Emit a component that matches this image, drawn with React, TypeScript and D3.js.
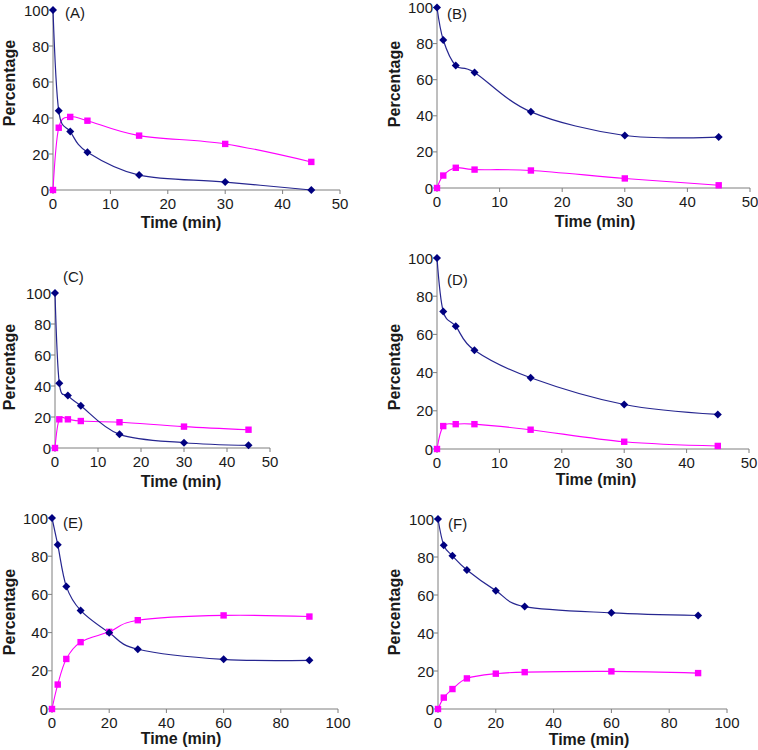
import React from "react";
import * as d3 from "d3";

const timesShort = [0, 1, 3, 6, 15, 30, 45];
const timesLong = [0, 2, 5, 10, 20, 30, 60, 90];

const blueA = [100, 44, 32.5, 21, 8.3, 4.4, 0];
const pinkA = [0, 34.6, 40.6, 38.5, 30.2, 25.6, 15.6];
const blueB = [100, 82, 67.8, 64, 42.2, 29.1, 28.2];
const pinkB = [0, 6.9, 11.2, 10.2, 9.7, 5.3, 1.5];
const blueC = [100, 41.7, 33.8, 27.3, 8.8, 3.4, 1.7];
const pinkC = [0, 18.5, 18.5, 17.4, 16.6, 13.8, 11.8];
const blueD = [100, 72, 64.3, 51.7, 37.3, 23.3, 18.1];
const pinkD = [0, 12, 13, 13, 10.1, 3.8, 1.6];
const blueE = [100, 86, 64.2, 51.6, 39.9, 31.3, 26, 25.5];
const pinkE = [0, 12.8, 26.2, 35, 40.4, 46.5, 49, 48.4];
const blueF = [100, 86.2, 80.6, 73.2, 62.3, 53.9, 50.6, 49.2];
const pinkF = [0, 6, 10.5, 16.1, 18.6, 19.4, 19.8, 18.9];

const xTicksShort = [0, 10, 20, 30, 40, 50];
const xTicksLong = [0, 20, 40, 60, 80, 100];
const yTicks = [0, 20, 40, 60, 80, 100];

const panelLabels = ["(A)", "(B)", "(C)", "(D)", "(E)", "(F)"];
const xLabel = "Time (min)";
const yLabel = "Percentage";

type Panel = {
  label: string;
  times: number[];
  blue: number[];
  pink: number[];
  xMax: number;
  xTicks: number[];
  x0: number; x1: number; yTop: number; yBot: number;
  labelX: number; labelY: number;
  titleX: number; titleY: number;
  ylabX: number; ylabY: number;
};

const panels: Panel[] = [
  { label: panelLabels[0], times: timesShort, blue: blueA, pink: pinkA, xMax: 50, xTicks: xTicksShort,
    x0: 53, x1: 340, yTop: 10, yBot: 190, labelX: 65, labelY: 18, titleX: 181, titleY: 228, ylabX: 15, ylabY: 83 },
  { label: panelLabels[1], times: timesShort, blue: blueB, pink: pinkB, xMax: 50, xTicks: xTicksShort,
    x0: 437, x1: 750, yTop: 7.5, yBot: 188, labelX: 447, labelY: 19, titleX: 595, titleY: 227, ylabX: 400, ylabY: 84 },
  { label: panelLabels[2], times: timesShort, blue: blueC, pink: pinkC, xMax: 50, xTicks: xTicksShort,
    x0: 55, x1: 270, yTop: 293, yBot: 448, labelX: 63, labelY: 282, titleX: 181, titleY: 487, ylabX: 15, ylabY: 367 },
  { label: panelLabels[3], times: timesShort, blue: blueD, pink: pinkD, xMax: 50, xTicks: xTicksShort,
    x0: 437, x1: 749, yTop: 258, yBot: 449, labelX: 447, labelY: 285, titleX: 596, titleY: 485, ylabX: 400, ylabY: 367 },
  { label: panelLabels[4], times: timesLong, blue: blueE, pink: pinkE, xMax: 100, xTicks: xTicksLong,
    x0: 52, x1: 338, yTop: 518, yBot: 709, labelX: 63, labelY: 528, titleX: 181, titleY: 744, ylabX: 15, ylabY: 612 },
  { label: panelLabels[5], times: timesLong, blue: blueF, pink: pinkF, xMax: 100, xTicks: xTicksLong,
    x0: 438, x1: 727, yTop: 519, yBot: 709, labelX: 448, labelY: 529, titleX: 589, titleY: 745, ylabX: 400, ylabY: 612 },
];

const FONT = "'Liberation Sans', Arial, sans-serif";
const AXIS = "#7f7f7f";
const TEXT = "#1a1a1a";
const BLUE = "#000080";
const BLUE_LINE = "#262690";
const PINK = "#ff00ff";

function PanelChart({ p }: { p: Panel }) {
  const x = d3.scaleLinear().domain([0, p.xMax]).range([p.x0, p.x1]);
  const y = d3.scaleLinear().domain([0, 100]).range([p.yBot, p.yTop]);
  const line = d3
    .line<[number, number]>()
    .x((d) => x(d[0]))
    .y((d) => y(d[1]))
    .curve(d3.curveCardinal.tension(0));
  const bluePts = p.times.map((t, i) => [t, p.blue[i]] as [number, number]);
  const pinkPts = p.times.map((t, i) => [t, p.pink[i]] as [number, number]);
  return (
    <g>
      <line x1={p.x0} x2={p.x0} y1={p.yTop} y2={p.yBot} stroke={AXIS} strokeWidth={1} />
      <line x1={p.x0} x2={p.x1} y1={p.yBot} y2={p.yBot} stroke={AXIS} strokeWidth={1} />
      {yTicks.map((t) => (
        <g key={"y" + t}>
          <line x1={p.x0 - 4} x2={p.x0} y1={y(t)} y2={y(t)} stroke={AXIS} />
          <text x={p.x0 - 4} y={y(t) + 5.5} textAnchor="end" fontSize={15} fontFamily={FONT} fill={TEXT}>
            {t}
          </text>
        </g>
      ))}
      {p.xTicks.map((t) => (
        <g key={"x" + t}>
          <line x1={x(t)} x2={x(t)} y1={p.yBot} y2={p.yBot + 4} stroke={AXIS} />
          <text x={x(t)} y={p.yBot + 18.5} textAnchor="middle" fontSize={15} fontFamily={FONT} fill={TEXT}>
            {t}
          </text>
        </g>
      ))}
      <text x={p.titleX} y={p.titleY} textAnchor="middle" fontSize={16} fontWeight="bold" fontFamily={FONT} fill={TEXT}>
        {xLabel}
      </text>
      <text
        transform={`translate(${p.ylabX},${p.ylabY}) rotate(-90)`}
        textAnchor="middle"
        fontSize={16}
        fontWeight="bold"
        fontFamily={FONT}
        fill={TEXT}
      >
        {yLabel}
      </text>
      <text x={p.labelX} y={p.labelY} fontSize={15} fontFamily={FONT} fill={TEXT}>
        {p.label}
      </text>
      <path d={line(pinkPts) || ""} fill="none" stroke={PINK} strokeWidth={1.1} />
      <path d={line(bluePts) || ""} fill="none" stroke={BLUE_LINE} strokeWidth={1.2} />
      {pinkPts.map((d, i) => (
        <rect key={"p" + i} x={x(d[0]) - 3.2} y={y(d[1]) - 3.2} width={6.4} height={6.4} fill={PINK} />
      ))}
      {bluePts.map((d, i) => {
        const cx = x(d[0]);
        const cy = y(d[1]);
        const r = 4;
        return (
          <path key={"b" + i} d={`M${cx},${cy - r}L${cx + r},${cy}L${cx},${cy + r}L${cx - r},${cy}Z`} fill={BLUE} />
        );
      })}
    </g>
  );
}

export default function App() {
  return (
    <svg
      width={758}
      height={750}
      viewBox="0 0 758 750"
      style={{ position: "absolute", left: 0, top: 0, background: "#fff", display: "block" }}
    >
      <rect x={0} y={0} width={758} height={750} fill="#fff" />
      {panels.map((p, i) => (
        <PanelChart key={i} p={p} />
      ))}
    </svg>
  );
}
